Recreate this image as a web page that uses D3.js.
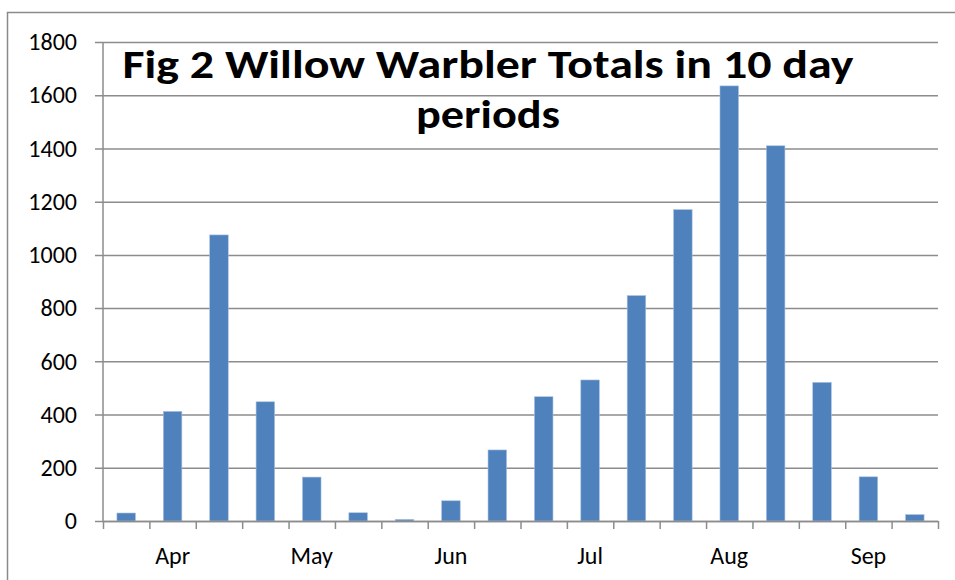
<!DOCTYPE html>
<html>
<head>
<meta charset="utf-8">
<script src="https://cdn.jsdelivr.net/npm/d3@7"></script>
<style>
  body { margin: 0; background: #fff; }
  svg { display: block; font-family: Carlito, Calibri, Lato, sans-serif; }
</style>
</head>
<body>
<div id="chart"></div>
<script>
// 18 ten-day periods, Mar to Sep; month label sits on every third period
const periodLabels = ["", "Apr", "", "", "May", "", "", "Jun", "", "", "Jul", "", "", "Aug", "", "", "Sep", ""];
const totals = [30, 412, 1075, 448, 165, 31, 6, 76, 267, 467, 530, 847, 1170, 1635, 1410, 521, 166, 24];
const yTicks = [0, 200, 400, 600, 800, 1000, 1200, 1400, 1600, 1800];
const titleLines = ["Fig 2 Willow Warbler Totals in 10 day", "periods"];

const W = 955, H = 580;
const plot = { left: 103, right: 938, top: 42, bottom: 521 };

const svg = d3.select("#chart").append("svg")
  .attr("width", W).attr("height", H);

// outer chart frame (runs off the right and bottom of the picture)
svg.append("rect")
  .attr("x", 7.5).attr("y", 12.5)
  .attr("width", W + 10).attr("height", H + 10)
  .attr("fill", "none").attr("stroke", "#8a8a8a").attr("stroke-width", 1.5);

const idx = d3.range(totals.length);
const x = d3.scaleBand().domain(idx).range([plot.left, plot.right])
  .paddingInner(0.6).paddingOuter(0.3);
const xEdge = d3.scaleLinear().domain([0, totals.length]).range([plot.left, plot.right]);
const y = d3.scaleLinear().domain([0, 1800]).range([plot.bottom, plot.top]);

// gridlines + y labels
const yAxis = svg.append("g")
  .attr("transform", `translate(${plot.left},0)`)
  .call(d3.axisLeft(y).tickValues(yTicks).tickFormat(d3.format("d"))
    .tickSize(plot.left - plot.right).tickSizeOuter(0).tickPadding(0));
yAxis.select(".domain").remove();
yAxis.attr("font-family", null).attr("font-size", 24);
yAxis.selectAll(".tick line")
  .attr("x1", -8)
  .attr("stroke", "#8c8c8c").attr("stroke-width", 1.5);
yAxis.selectAll(".tick text")
  .attr("x", -26)
  .attr("fill", "#000");

// y axis line
svg.append("line")
  .attr("x1", plot.left).attr("x2", plot.left)
  .attr("y1", plot.top).attr("y2", plot.bottom)
  .attr("stroke", "#8c8c8c").attr("stroke-width", 1.5);

// bars
svg.append("g").selectAll("rect")
  .data(totals)
  .join("rect")
  .attr("x", (d, i) => x(i))
  .attr("width", x.bandwidth())
  .attr("y", d => y(d))
  .attr("height", d => y(0) - y(d))
  .attr("fill", "#4f81bd")
  .attr("stroke", "#a9c1df").attr("stroke-width", 0.6);

// x axis: ticks at period boundaries
const xAxis = svg.append("g")
  .attr("transform", `translate(0,${plot.bottom})`)
  .call(d3.axisBottom(xEdge).tickValues(d3.range(totals.length + 1)).tickFormat("").tickSize(8).tickSizeOuter(0));
xAxis.select(".domain").attr("stroke", "#8c8c8c").attr("stroke-width", 1.5);
xAxis.selectAll(".tick line").attr("stroke", "#8c8c8c").attr("stroke-width", 1.5);

// month labels
const xLab = svg.append("g")
  .attr("transform", `translate(0,${plot.bottom})`)
  .call(d3.axisBottom(x).tickFormat(i => periodLabels[i]).tickSize(0).tickPadding(26));
xLab.select(".domain").remove();
xLab.attr("font-family", null).attr("font-size", 24);
xLab.selectAll("text").attr("fill", "#000");

// title
const title = svg.append("text")
  .attr("text-anchor", "middle")
  .attr("font-weight", "bold")
  .attr("font-size", 41)
  .attr("fill", "#000");
title.append("tspan").attr("x", 488).attr("y", 78).text(titleLines[0])
  .attr("textLength", 731).attr("lengthAdjust", "spacingAndGlyphs");
title.append("tspan").attr("x", 488).attr("y", 128).text(titleLines[1])
  .attr("textLength", 144).attr("lengthAdjust", "spacingAndGlyphs");
</script>
</body>
</html>
